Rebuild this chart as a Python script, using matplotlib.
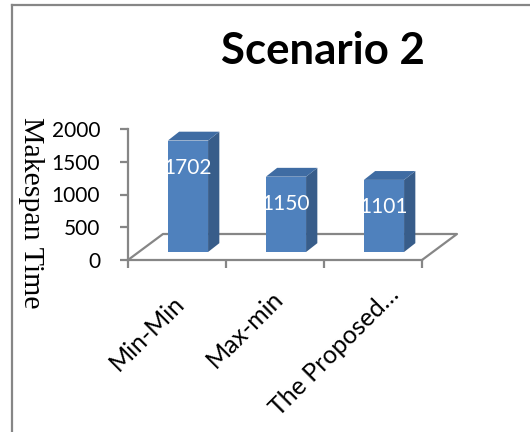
import numpy as np
import matplotlib
matplotlib.use("Agg")
import matplotlib.pyplot as plt
from matplotlib.patches import Polygon

# datos
categorias = ["Min-Min", "Max-min", "The Proposed…"]
makespan = [1702, 1150, 1101]
etiquetas_y = [0, 500, 1000, 1500, 2000]

titulo = "Scenario 2"
eje_y = "Makespan Time"

# colores estilo Excel
FRENTE = "#4F81BD"
LADO = "#385D8A"
TECHO = "#3F6CA3"
GRIS = "#868686"

# profundidad del "suelo" 3D (en unidades de datos)
FONDO_X = 0.357
FONDO_Y = 397
# barras: desplazamiento del frente y profundidad propia
OFF_X = 0.112
OFF_Y = 122
PROF_X = 0.115
PROF_Y = 135
ANCHO = 0.41

# desplazamiento (puntos) de cada etiqueta girada respecto a su categoria
desp_etiquetas = [(-3, -23), (-3, -19.5), (10, -16)]

plt.rcParams['font.family'] = ['Lato', 'DejaVu Sans']

fig = plt.figure(figsize=(5.3, 4.32), dpi=100)
ax = fig.add_axes([128/530, 1 - 260/432, 294/530, 131/432])

x = np.arange(len(categorias))

# suelo: diagonales y borde trasero
ax.plot([-0.5, -0.5 + FONDO_X, 2.5 + FONDO_X, 2.5],
        [0, FONDO_Y, FONDO_Y, 0], color=GRIS, lw=1.6, clip_on=False, zorder=1)

for xi, v in zip(x, makespan):
    izq = xi + OFF_X - ANCHO / 2
    der = xi + OFF_X + ANCHO / 2
    base = OFF_Y
    tope = OFF_Y + v
    lado = Polygon([(der, base), (der + PROF_X, base + PROF_Y),
                    (der + PROF_X, tope + PROF_Y), (der, tope)],
                   closed=True, facecolor=LADO, edgecolor="none", clip_on=False, zorder=2)
    techo = Polygon([(izq, tope), (der, tope), (der + PROF_X, tope + PROF_Y),
                     (izq + PROF_X, tope + PROF_Y)],
                    closed=True, facecolor=TECHO, edgecolor="none", clip_on=False, zorder=2)
    ax.add_patch(lado)
    ax.add_patch(techo)

barras = ax.bar(x + OFF_X, makespan, ANCHO, bottom=OFF_Y, color=FRENTE,
                clip_on=False, zorder=3)

for xi, v in zip(x, makespan):
    ax.text(xi + OFF_X, OFF_Y + v - 420, str(v), color="white", fontsize=15,
            ha="center", va="center", zorder=4, clip_on=False)

ax.set_xlim(-0.5, 2.5)
ax.set_ylim(0, 2000)
ax.set_yticks(etiquetas_y)
ax.set_yticklabels([str(e) for e in etiquetas_y], fontsize=15)
ax.set_xticks([-0.5, 0.5, 1.5, 2.5])
ax.set_xticklabels([])
ax.tick_params(axis="both", direction="out", length=6, width=1.6, color=GRIS)
ax.tick_params(axis="y", pad=14)

for s in ["top", "right"]:
    ax.spines[s].set_visible(False)
for s in ["left", "bottom"]:
    ax.spines[s].set_color(GRIS)
    ax.spines[s].set_linewidth(1.6)
ax.patch.set_alpha(0)

# etiquetas de categorias giradas
for xi, c, d in zip(x, categorias, desp_etiquetas):
    ax.annotate(c, xy=(xi, 0), xytext=d, textcoords="offset points",
                rotation=45, ha="right", va="top", rotation_mode="anchor",
                fontsize=18)

fig.text(323/530, 1 - 51/432, titulo, fontsize=31.5, fontweight="bold",
         ha="center", va="center")
fig.text(31/530, 1 - 213/432, eje_y, fontsize=21.5, rotation=-90,
         family="Liberation Serif", ha="center", va="center")

# marco del grafico (solo arriba e izquierda)
fig.add_artist(plt.Line2D([12/530, 1], [1 - 5/432, 1 - 5/432], color=GRIS, lw=1.6))
fig.add_artist(plt.Line2D([12/530, 12/530], [0, 1 - 5/432], color=GRIS, lw=1.6))

fig.savefig("out.png", dpi=100)
